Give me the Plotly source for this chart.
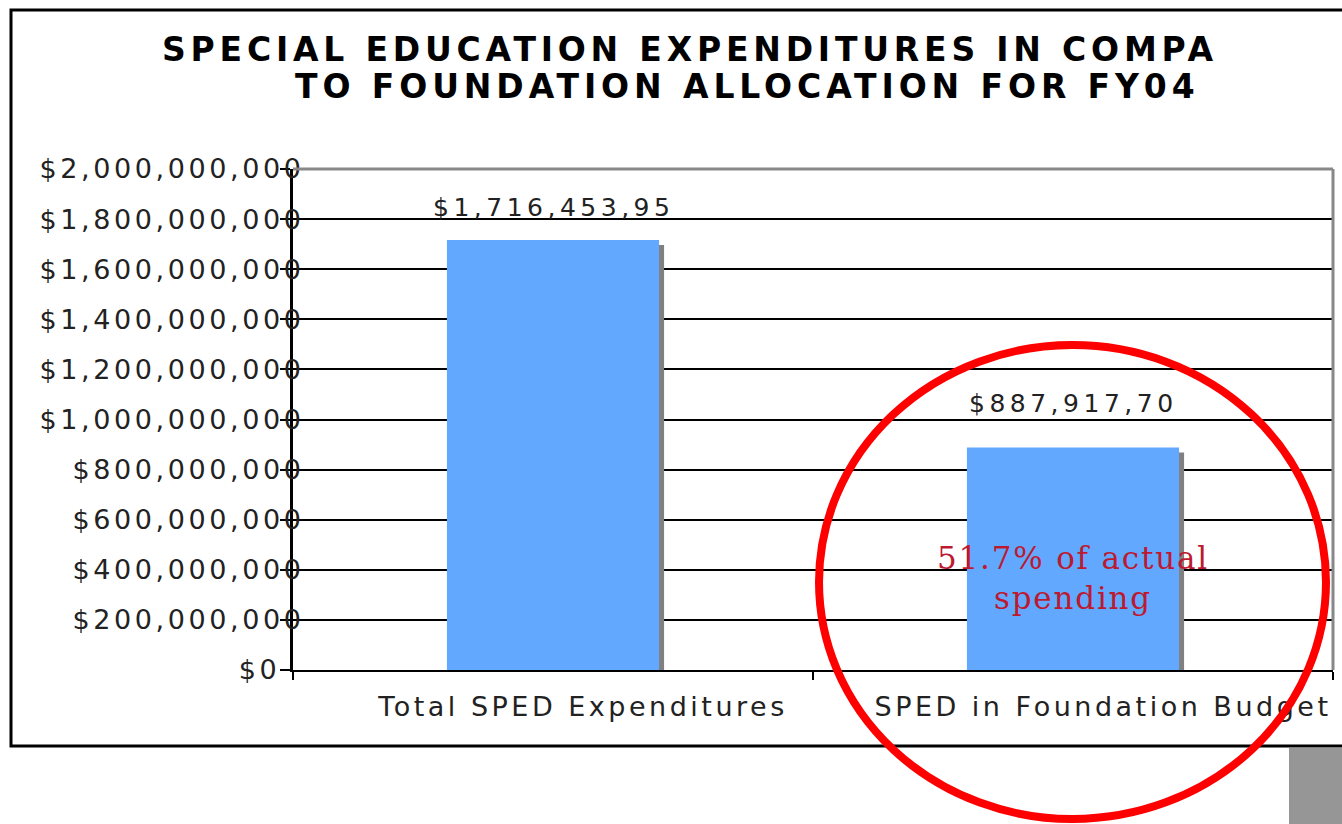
import plotly.graph_objects as go

# --- data -------------------------------------------------------------
categories = ["Total SPED Expenditures", "SPED in Foundation Budget"]
amounts = [1716453950, 887917700]
amount_labels = ["$1,716,453,95", "$887,917,70"]
y_ticks = [0, 200e6, 400e6, 600e6, 800e6, 1000e6, 1200e6, 1400e6, 1600e6, 1800e6, 2000e6]
y_tick_labels = ["$0", "$200,000,000", "$400,000,000", "$600,000,000", "$800,000,000",
                 "$1,000,000,000", "$1,200,000,000", "$1,400,000,000", "$1,600,000,000",
                 "$1,800,000,000", "$2,000,000,000"]
title_lines = ["SPECIAL EDUCATION EXPENDITURES IN COMPA", "TO FOUNDATION ALLOCATION FOR FY04"]
note_text = "51.7% of actual<br>spending"

# --- geometry helpers (pixel -> paper) ----------------------------------
W, H = 1342, 824
ML, MR, MT, MB = 293, 9, 169, 154
PW, PH = W - ML - MR, H - MT - MB


def px(x):
    return (x - ML) / PW


def py(y):
    return (H - MB - y) / PH


def spaced(s, sp):
    return f'<span style="letter-spacing:{sp}px">{s}</span>'


FONT = "DejaVu Sans"
BAR_W = 0.408
shadow_dx = 5 / PW * 2          # category units (2 categories across the plot)
shadow_drop = 5 / PH * 2e9      # value units

fig = go.Figure()

# drop shadow behind each bar
fig.add_trace(go.Bar(
    x=categories, y=amounts, base=-shadow_drop,
    width=BAR_W, offset=-BAR_W / 2 + shadow_dx,
    marker=dict(color="#808080", line=dict(width=0)),
    hoverinfo="skip", showlegend=False,
))
# main bars
fig.add_trace(go.Bar(
    x=categories, y=amounts,
    width=BAR_W, offset=-BAR_W / 2,
    marker=dict(color="#62A8FF", line=dict(width=0)),
    showlegend=False,
))

# value labels above the bars
label_lift = [33, 44]
for cat, val, lab, lift in zip(categories, amounts, amount_labels, label_lift):
    fig.add_annotation(
        x=cat, y=val, xref="x", yref="y", text=spaced(lab, 4.5),
        showarrow=False, yanchor="middle", yshift=lift,
        font=dict(family=FONT, size=25, color="#222222"),
    )

# title, two lines
fig.add_annotation(
    x=px(160), y=py(49), xref="paper", yref="paper", xanchor="left", yanchor="middle",
    text=spaced(title_lines[0], 4.8), showarrow=False,
    font=dict(family=FONT, size=33, color="#000000", weight=700),
)
fig.add_annotation(
    x=px(293), y=py(87), xref="paper", yref="paper", xanchor="left", yanchor="middle",
    text=spaced(title_lines[1], 4.9), showarrow=False,
    font=dict(family=FONT, size=33, color="#000000", weight=700),
)

# note inside the second bar
fig.add_annotation(
    x=categories[1], y=py(578), xref="x", yref="paper", yanchor="middle",
    text=spaced(note_text, 1.8), showarrow=False,
    font=dict(family="DejaVu Serif", size=31, color="#BC1A30"),
)

shapes = [
    # outer chart frame
    dict(type="rect", xref="paper", yref="paper", x0=px(11), x1=px(1400), y0=py(746), y1=py(10),
         line=dict(color="#000000", width=3), fillcolor="rgba(0,0,0,0)", layer="below"),
    # plot-area border (top and right)
    dict(type="line", xref="paper", yref="paper", x0=0, x1=1, y0=1, y1=1,
         line=dict(color="#888888", width=3)),
    dict(type="line", xref="paper", yref="paper", x0=1, x1=1, y0=0, y1=1,
         line=dict(color="#888888", width=3)),
    # grey block at the bottom right
    dict(type="rect", xref="paper", yref="paper", x0=px(1289), x1=px(1400), y0=py(900), y1=py(748),
         line=dict(width=0), fillcolor="#969696"),
    # red ring highlighting the foundation budget bar
    dict(type="circle", xref="paper", yref="paper", x0=px(819), x1=px(1326), y0=py(819), y1=py(345),
         line=dict(color="#FF0000", width=8), fillcolor="rgba(0,0,0,0)"),
]

# the zero label sits a little clear of the axis
y_text = [spaced(t + ("\u00a0" * 2 if v == 0 else ""), 3.6) for t, v in zip(y_tick_labels, y_ticks)]

fig.update_layout(
    width=W, height=H,
    margin=dict(l=ML, r=MR, t=MT, b=MB, pad=0),
    paper_bgcolor="#FFFFFF", plot_bgcolor="#FFFFFF",
    barmode="overlay", showlegend=False,
    shapes=shapes,
    xaxis=dict(
        type="category", categoryorder="array", categoryarray=categories,
        tickmode="array", tickvals=categories, ticktext=[spaced(c, 3.5) for c in categories],
        tickson="boundaries", ticks="outside", ticklen=8, tickwidth=2, tickcolor="#000000",
        showline=True, linecolor="#000000", linewidth=2, showgrid=False, zeroline=False,
        tickfont=dict(family=FONT, size=27, color="#222222"),
        ticklabelshift=30, ticklabelstandoff=12,
        range=[-0.5, 1.5],
    ),
    yaxis=dict(
        range=[0, 2e9], tickmode="array", tickvals=y_ticks,
        ticktext=y_text,
        ticks="outside", ticklen=10, tickwidth=2, tickcolor="#000000",
        showline=True, linecolor="#000000", linewidth=3,
        showgrid=True, gridcolor="#000000", gridwidth=2, zeroline=False,
        tickfont=dict(family=FONT, size=27, color="#222222"),
        ticklabelstandoff=-30,
    ),
)

fig.write_html("out.html")
